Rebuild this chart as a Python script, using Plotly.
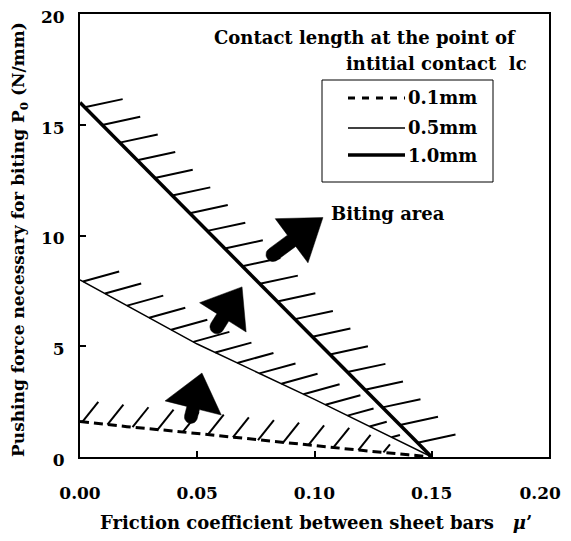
import numpy as np
import plotly.graph_objects as go

# ---------------- data ----------------
mu_thick = [0.0, 0.15]                       # lc = 1.0 mm
p_thick = [16.0, 0.0]
mu_mid = [0.0, 0.05, 0.10, 0.15]             # lc = 0.5 mm
p_mid = [8.0, 5.1, 2.6, 0.0]
mu_low = [0.0, 0.01, 0.02, 0.04, 0.06, 0.08, 0.10, 0.12, 0.14, 0.15]   # lc = 0.1 mm
p_low = [1.6, 1.48, 1.37, 1.17, 0.95, 0.72, 0.50, 0.30, 0.10, 0.0]

x_tickvals = [0.0, 0.05, 0.10, 0.15, 0.20]
x_ticktext = ["0.00", "0.05", "0.10", "0.15", "0.20\u00a0\u00a0\u00a0"]
y_tickvals = [0, 5, 10, 15, 20]
legend_labels = ["0.1mm", "0.5mm", "1.0mm"]

# ---------------- geometry ----------------
BODY = 8                       # browser default body margin
W, H = 571 - BODY, 541 - 2 * BODY
ML, MR, MT = 72, 22, 6
PH = 443
MB = H - MT - PH
PW = W - ML - MR
X0S, Y0S = ML + BODY, MT + BODY + PH   # screen px of data origin
XR, YR = 0.2, 20.0
FONT = "DejaVu Serif"
FS = 18
FS_TICK = 17


def bold(s):
    return "<b>" + s + "</b>"


def to_px(x, y):
    return X0S + x / XR * PW, Y0S - y / YR * PH


def to_data(px, py):
    return (px - X0S) / PW * XR, (Y0S - py) / PH * YR


def px_paper(px, py):
    return (px - X0S) / PW, (Y0S - py) / PH


def clip_t(x0, y0, dx, dy, mu_u, p_u, margin):
    ts = np.linspace(0, 1, 201)
    xs = x0 + ts * dx
    ys = y0 + ts * dy
    yu = np.interp(xs, mu_u, p_u, right=-1e9)
    ok = ys < yu - margin
    if ok.all():
        return 1.0
    idx = np.argmax(~ok)
    return ts[max(idx - 1, 0)]


def hatch_trace(mu, p, x_start, step, n, dx, dy, upper=None, margin=0.3, width=2):
    xs, ys = [], []
    for i in range(n):
        x0 = x_start + i * step
        y0 = float(np.interp(x0, mu, p))
        t = 1.0
        if upper is not None:
            t = clip_t(x0, y0, dx, dy, upper[0], upper[1], margin)
        if t < 0.2:
            continue
        xs += [x0, x0 + t * dx, None]
        ys += [y0, y0 + t * dy, None]
    return go.Scatter(x=xs, y=ys, mode="lines", line=dict(color="black", width=width),
                      hoverinfo="skip", showlegend=False)


def arrow_trace(tail, tip, head_len, head_w, shaft_w):
    t = np.array(to_px(*tail))
    h = np.array(to_px(*tip))
    d = h - t
    u = d / np.linalg.norm(d)
    nrm = np.array([-u[1], u[0]])
    b = h - u * head_len
    r = shaft_w / 2
    pts = [t + nrm * r, b + nrm * r, b + nrm * head_w / 2, h,
           b - nrm * head_w / 2, b - nrm * r, t - nrm * r]
    for th in np.linspace(0, np.pi, 16):
        pts.append(t - nrm * r * np.cos(th) - u * r * np.sin(th))
    pts.append(pts[0])
    xs, ys = zip(*[to_data(*pp) for pp in pts])
    return go.Scatter(x=list(xs), y=list(ys), mode="lines", fill="toself",
                      fillcolor="black", line=dict(color="black", width=0.5),
                      hoverinfo="skip", showlegend=False)


fig = go.Figure()

# main curves
fig.add_trace(go.Scatter(x=mu_low, y=p_low, mode="lines", name=legend_labels[0],
                         line=dict(color="black", width=3, dash="9px,5px"), showlegend=False))
fig.add_trace(go.Scatter(x=mu_mid, y=p_mid, mode="lines", name=legend_labels[1],
                         line=dict(color="black", width=1.5), showlegend=False))
fig.add_trace(go.Scatter(x=mu_thick, y=p_thick, mode="lines", name=legend_labels[2],
                         line=dict(color="black", width=3.5), showlegend=False))

# hatching (biting side of each curve)
fig.add_trace(hatch_trace(mu_thick, p_thick, 0.002, 0.00747, 20, 0.0162, 0.37))
fig.add_trace(hatch_trace(mu_mid, p_mid, 0.0013, 0.0094, 15, 0.0154, 0.45,
                          upper=(mu_thick, p_thick), margin=0.45))
fig.add_trace(hatch_trace(mu_low, p_low, 0.001, 0.0107, 14, 0.0068, 0.9,
                          upper=(mu_mid, p_mid), margin=0.35))

# block arrows
fig.add_trace(arrow_trace((0.0823, 9.14), (0.1036, 10.81), 39, 55, 14))
fig.add_trace(arrow_trace((0.0584, 5.88), (0.0691, 7.68), 36, 55, 14))
fig.add_trace(arrow_trace((0.0473, 1.81), (0.0520, 3.79), 36, 58, 13))

# ---------------- legend (drawn) ----------------
shapes = []
bx0, by0 = px_paper(322, 80)
bx1, by1 = px_paper(493, 182)
shapes.append(dict(type="rect", xref="paper", yref="paper", x0=bx0, y0=by1, x1=bx1, y1=by0,
                   line=dict(color="black", width=1), fillcolor="rgba(0,0,0,0)"))
leg_y = [98, 128, 155]
leg_styles = [dict(width=3, dash="7px,7px"), dict(width=1.5), dict(width=3.5)]
annotations = []
tfont = dict(family=FONT, size=FS, color="black")
for lab, ly, st in zip(legend_labels, leg_y, leg_styles):
    lx0, lyp = px_paper(348, ly)
    lx1, _ = px_paper(405, ly)
    shapes.append(dict(type="line", xref="paper", yref="paper", x0=lx0, x1=lx1, y0=lyp, y1=lyp,
                       line=dict(color="black", **st)))
    tx, ty = px_paper(406, ly)
    annotations.append(dict(text=bold(lab), xref="paper", yref="paper", x=tx, y=ty,
                            xanchor="left", yanchor="middle", showarrow=False, font=tfont))

ax, ay = px_paper(212, 38)
annotations.append(dict(text=bold("Contact length at the point of"), xref="paper", yref="paper",
                        x=ax, y=ay, xanchor="left", yanchor="middle", showarrow=False, font=tfont))
ax, ay = px_paper(529, 64)
annotations.append(dict(text=bold("intitial contact\u00a0\u00a0lc"), xref="paper", yref="paper",
                        x=ax, y=ay, xanchor="right", yanchor="middle", showarrow=False, font=tfont))
ax, ay = px_paper(329, 213)
annotations.append(dict(text=bold("Biting area"), xref="paper", yref="paper",
                        x=ax, y=ay, xanchor="left", yanchor="middle", showarrow=False, font=tfont))
# axis titles
ax, ay = px_paper(316, 522)
annotations.append(dict(text=bold("Friction coefficient between sheet bars\u00a0\u00a0\u00a0<i>μ</i>\u2019"),
                        xref="paper", yref="paper", x=ax, y=ay, xanchor="center", yanchor="middle",
                        showarrow=False, font=tfont))
ax, ay = px_paper(20, 240)
annotations.append(dict(text=bold("Pushing force necessary for biting P<sub>0</sub> (N/mm)"),
                        xref="paper", yref="paper", x=ax, y=ay, xanchor="center", yanchor="middle",
                        textangle=-90, showarrow=False,
                        font=dict(family=FONT, size=FS_TICK, color="black")))

axis_common = dict(showgrid=False, zeroline=False, showline=True, linecolor="black",
                   linewidth=2, mirror=True, ticks="inside", ticklen=6, tickwidth=1.5,
                   tickcolor="black", automargin=False, ticklabeloverflow="allow",
                   tickfont=dict(family=FONT, size=FS_TICK, color="black", weight="bold"))

fig.update_layout(
    width=W, height=H,
    margin=dict(l=ML, r=MR, t=MT, b=MB, pad=0, autoexpand=False),
    paper_bgcolor="white", plot_bgcolor="white",
    xaxis=dict(range=[0, XR], tickvals=x_tickvals, ticktext=x_ticktext,
               ticklabelstandoff=20, **axis_common),
    yaxis=dict(range=[0, YR], tickvals=y_tickvals, ticklabelstandoff=10,
               ticklabelshift=3, **axis_common),
    shapes=shapes, annotations=annotations, showlegend=False,
)

fig.write_html("out.html")
